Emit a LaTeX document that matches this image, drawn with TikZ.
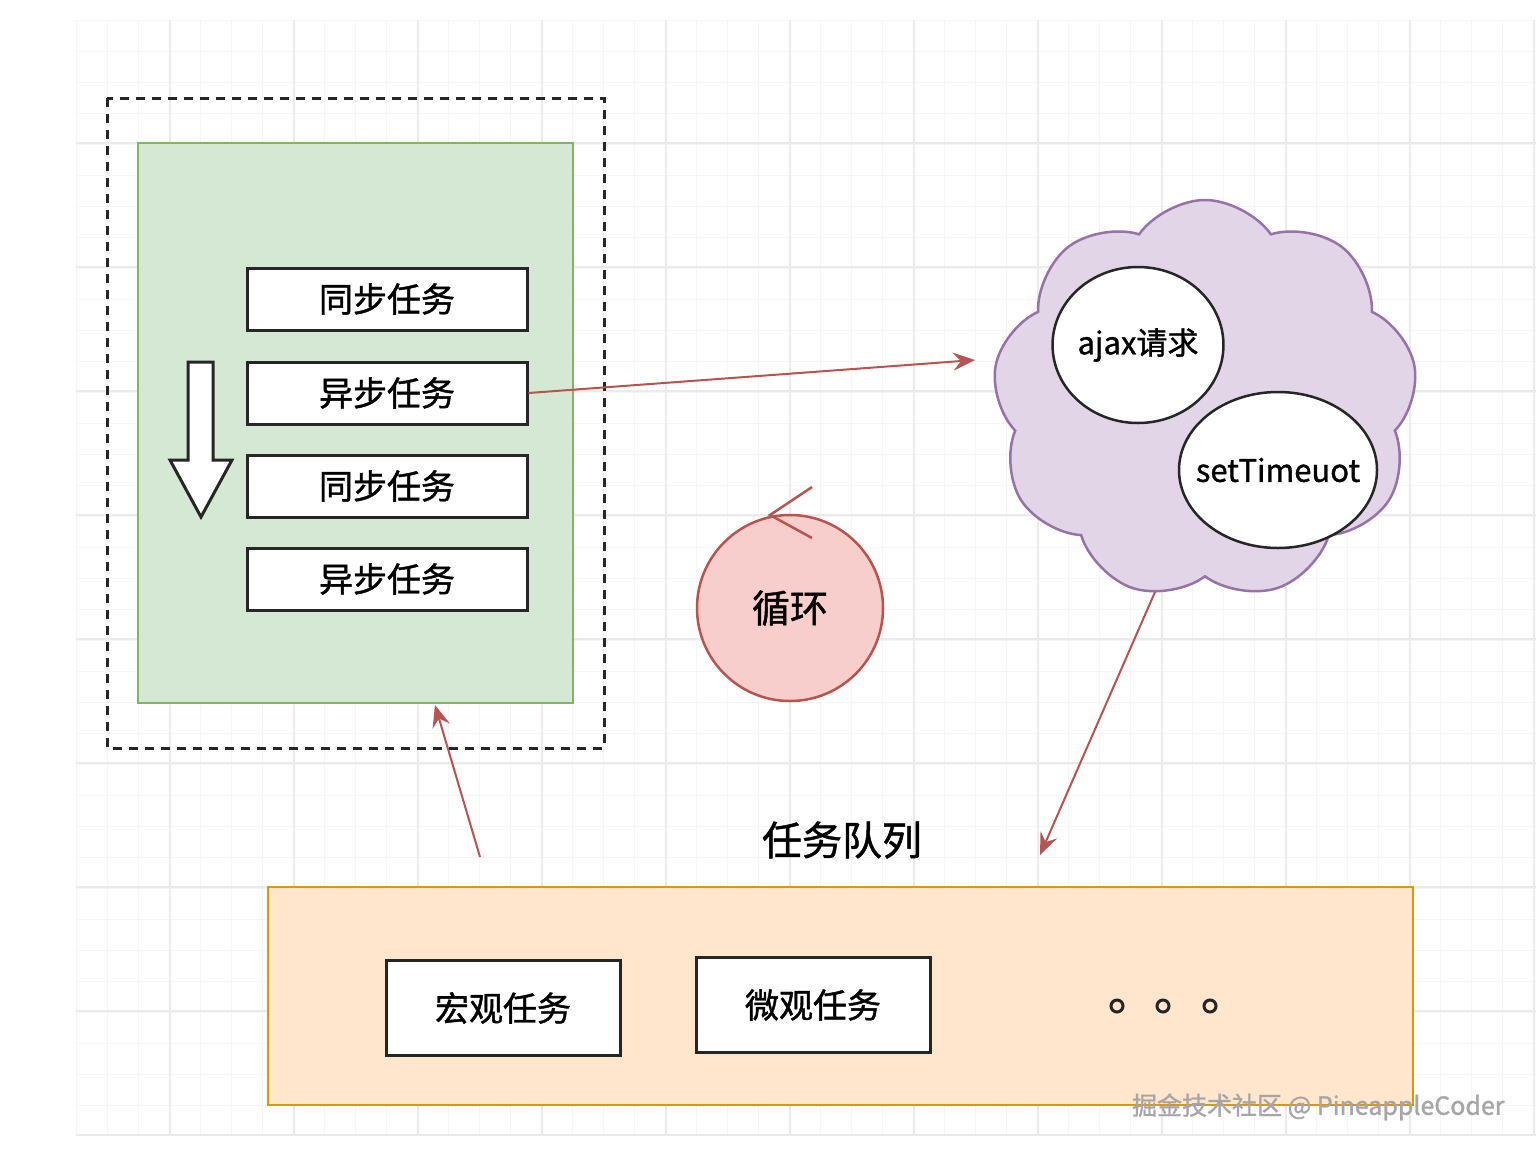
\documentclass[tikz,border=0pt]{standalone}
\usepackage{fontspec}
\newfontfamily\cjk{Noto Sans CJK SC}[FakeBold=1.2]
\usetikzlibrary{shapes.symbols,shapes.geometric,arrows.meta}
\definecolor{redl}{HTML}{B85450}
\begin{document}
\begin{tikzpicture}[x=1pt,y=-1pt,
 task/.style={draw=black!85,line width=3pt,fill=white,minimum width=280pt,minimum height=62pt,font=\cjk\fontsize{34}{38}\selectfont},
 qbox/.style={draw=black!85,line width=3pt,fill=white,minimum width=234pt,minimum height=95pt,font=\cjk\fontsize{34}{38}\selectfont},
 rarr/.style={draw=redl,line width=2pt,-{Stealth[length=22pt,width=18pt,inset=8pt]}},
 ell/.style={draw=black!85,line width=2.5pt,fill=white,ellipse,font=\cjk\fontsize{31}{34}\selectfont}]
\useasboundingbox (0,0) rectangle (1536,1152);
\fill[white] (0,0) rectangle (1536,1152);
\foreach \x in {76,107,...,1536} \draw[black!4,line width=1pt] (\x,20) -- (\x,1135);
\foreach \y in {20,51,...,1135} \draw[black!4,line width=1pt] (76,\y) -- (1536,\y);
\foreach \x in {170,294,...,1536} \draw[black!8,line width=1.2pt] (\x,20) -- (\x,1135);
\foreach \y in {143,267,...,1135} \draw[black!8,line width=1.2pt] (76,\y) -- (1536,\y);
% left
\draw[black!85,line width=3pt,dash pattern=on 9pt off 7pt] (107,98) rectangle (604,748);
\draw[fill={rgb,255:red,213;green,232;blue,212},draw={rgb,255:red,130;green,179;blue,102},line width=2.5pt] (138,143) rectangle (573,703);
\node[task] (t1) at (387,299) {同步任务};
\node[task] (t2) at (387,393) {异步任务};
\node[task] (t3) at (387,486) {同步任务};
\node[task] (t4) at (387,579) {异步任务};
\draw[black!85,line width=3pt,fill=white] (188,362) -- (213,362) -- (213,460) -- (232,460) -- (201,517) -- (170,460) -- (188,460) -- cycle;
% cloud
\node[cloud,cloud puffs=9,cloud puff arc=110,aspect=1.1,minimum width=425pt,minimum height=400pt,fill={rgb,255:red,225;green,213;blue,231},draw={rgb,255:red,150;green,115;blue,166},line width=2.5pt] (cl) at (1205,400) {};
\node[ell,minimum width=168pt,minimum height=156pt,inner sep=0pt] (aj) at (1138,345) {ajax请求};
\node[ell,minimum width=198pt,minimum height=156pt,inner xsep=-30pt,inner ysep=0pt] (st) at (1278,470) {setTimeuot};
% loop
\node[circle,minimum size=186pt,fill={rgb,255:red,248;green,206;blue,204},draw=redl,line width=2.5pt,font=\cjk\fontsize{38}{42}\selectfont] (lp) at (790,608) {循环};
\coordinate (c1) at (812,487); \coordinate (c2) at (770,515); \coordinate (c3) at (812,538);
\draw[redl,line width=2.5pt] (c1) -- (c2) -- (c3);
% queue
\node[font=\cjk\fontsize{40}{44}\selectfont] (ql) at (842,840) {任务队列};
\draw[fill={rgb,255:red,255;green,230;blue,204},draw={rgb,255:red,215;green,155;blue,0},line width=2.5pt] (268,887) rectangle (1413,1105);
\node[qbox] (m1) at (503,1008) {宏观任务};
\node[qbox] (m2) at (813,1005) {微观任务};
\foreach \x/\n in {1117/d1,1163/d2,1210/d3} \node[circle,draw=black!85,line width=3pt,minimum size=12pt,inner sep=0pt] (\n) at (\x,1006) {};
% arrows
\coordinate (a1) at (975,360);
\draw[rarr] (t2.east) -- (a1);
\coordinate (b0) at (1155,592); \coordinate (b1) at (1040,855);
\draw[rarr] (b0) -- (b1);
\coordinate (e0) at (480,857); \coordinate (e1) at (435,705);
\draw[rarr] (e0) -- (e1);
\node[font=\cjk\fontsize{25}{28}\selectfont,text=black!35,anchor=east] (wm) at (1508,1107) {掘金技术社区 @ PineappleCoder};
\end{tikzpicture}
\end{document}
